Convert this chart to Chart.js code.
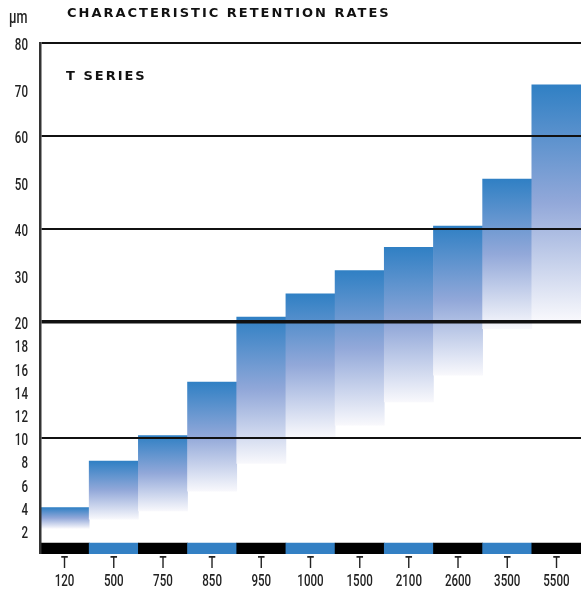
<!DOCTYPE html>
<html>
<head>
<meta charset="utf-8">
<script src="https://cdn.jsdelivr.net/npm/chart.js@4.4.1/dist/chart.umd.min.js"></script>
<style>
  html, body { margin: 0; padding: 0; background: #fff; }
  #wrap { position: relative; width: 581px; height: 592px; }
  #chart { position: absolute; left: 0; top: 0; }
  .caps {
    position: absolute;
    font-family: 'DejaVu Sans', sans-serif;
    font-weight: bold;
    font-size: 13px;
    letter-spacing: 2px;
    color: #111;
    white-space: nowrap;
    line-height: 1;
  }
  #title { left: 67px; top: 6px; }
  #series { left: 66px; top: 69px; }
  #unit {
    position: absolute; left: 9px; top: 8px;
    font-family: Roboto, 'Liberation Sans', sans-serif; font-weight: 500;
    font-size: 18px; color: #222; line-height: 1;
    transform: scaleX(0.7); transform-origin: 0 0;
  }
</style>
</head>
<body>
<div id="wrap">
  <canvas id="chart" width="581" height="592"></canvas>
  <div class="caps" id="title">CHARACTERISTIC RETENTION RATES</div>
  <div class="caps" id="series">T SERIES</div>
  <div id="unit">µm</div>
</div>
<script>
// Filter grades and the retention range (µm) of each one
const seriesPrefix = 'T';
const grades = ['120', '500', '750', '850', '950', '1000', '1500', '2100', '2600', '3500', '5500'];
const lowValues  = [2.2, 3.0, 3.7, 5.4, 7.8, 10.1, 11.1, 13.1, 15.4, 19.4, 20.3];
const highValues = [4.0, 8.0, 10.2, 14.8, 21.0, 26.0, 31.0, 36.0, 40.6, 50.7, 71.0];

// Axis ticks and which of them carry a rule
const yTickValues = [2, 4, 6, 8, 10, 12, 14, 16, 18, 20, 30, 40, 50, 60, 70, 80];
const ruledValues = [10, 40, 60, 80];
const heavyRuleValue = 20;

// Alternating grade band along the foot of the chart
const bandRange = [0, 0.95];
const bandColors = ['#000000', '#3380c4'];

// Vertical axis: 0–20 is stretched 2.5x against 20–80
const SPLIT = 20, STRETCH = 2.5;
const warp = v => v <= SPLIT ? v * STRETCH : SPLIT * STRETCH + (v - SPLIT);
const unwarp = w => w <= SPLIT * STRETCH ? w / STRETCH : SPLIT + (w - SPLIT * STRETCH);

class SplitScale extends Chart.LinearScale {
  static id = 'split';
  static defaults = Chart.LinearScale.defaults;
  getPixelForValue(value) {
    if (value === null || value === undefined || isNaN(value)) return NaN;
    const a = warp(this.min), b = warp(this.max);
    return this.getPixelForDecimal((warp(value) - a) / (b - a));
  }
  getValueForPixel(pixel) {
    const a = warp(this.min), b = warp(this.max);
    return unwarp(a + this.getDecimalForPixel(pixel) * (b - a));
  }
}
Chart.register(SplitScale);

// Each bar fades from blue at its top to near white at its bottom
function barFill(ctx) {
  const chart = ctx.chart;
  const y = chart.scales && chart.scales.y;
  if (!y || ctx.type !== 'data' || !Array.isArray(ctx.raw)) return '#3380c4';
  const top = y.getPixelForValue(ctx.raw[1]);
  const bottom = y.getPixelForValue(ctx.raw[0]);
  if (!isFinite(top) || !isFinite(bottom)) return '#3380c4';
  const g = chart.ctx.createLinearGradient(0, top, 0, bottom);
  g.addColorStop(0, 'rgb(48,128,196)');
  g.addColorStop(0.5, 'rgb(146,168,217)');
  g.addColorStop(1, 'rgb(248,248,252)');
  return g;
}

// Tick labels in a narrow face: horizontally squeezed text at the scales' tick positions
const LABEL_SIZE = 16.5;
const SQUEEZE = 0.7;
const narrowLabels = {
  id: 'narrowLabels',
  afterDraw(chart) {
    const ctx = chart.ctx, xs = chart.scales.x, ys = chart.scales.y;
    const put = (text, x, yMid, align) => {
      ctx.save();
      ctx.translate(x, yMid + 0.355 * LABEL_SIZE);
      ctx.scale(SQUEEZE, 1);
      ctx.textAlign = align;
      ctx.textBaseline = 'alphabetic';
      ctx.fillText(text, 0, 0);
      ctx.restore();
    };
    ctx.save();
    ctx.fillStyle = '#222';
    ctx.font = `500 ${LABEL_SIZE}px Roboto, 'Liberation Sans', sans-serif`;
    ys.ticks.forEach(t => put(String(t.value), ys.right - 12, ys.getPixelForValue(t.value) + 1.5, 'right'));
    grades.forEach((g, i) => {
      const x = xs.getPixelForTick(i);
      put(seriesPrefix, x, xs.top + 8.5, 'center');
      put(g, x, xs.top + 26, 'center');
    });
    ctx.restore();
  }
};

new Chart(document.getElementById('chart'), {
  type: 'bar',
  data: {
    labels: grades.map(g => seriesPrefix + ' ' + g),
    datasets: [
      {
        data: grades.map((_, i) => [lowValues[i], highValues[i]]),
        backgroundColor: barFill,
        borderWidth: 0,
        grouped: false,
        barPercentage: 1,
        categoryPercentage: 1
      },
      {
        data: grades.map(() => bandRange),
        backgroundColor: grades.map((_, i) => bandColors[i % 2]),
        borderWidth: 0,
        grouped: false,
        barPercentage: 1,
        categoryPercentage: 1
      }
    ]
  },
  plugins: [narrowLabels],
  options: {
    responsive: false,
    animation: false,
    layout: { padding: { top: 43, right: 0, left: 0, bottom: 0 } },
    plugins: { legend: { display: false }, tooltip: { enabled: false }, title: { display: false } },
    scales: {
      x: {
        grid: { display: false },
        border: { display: false },
        ticks: { display: false },
        afterFit: s => { s.height = 38; }
      },
      y: {
        type: 'split',
        min: 0,
        max: 80,
        afterBuildTicks: s => { s.ticks = yTickValues.map(v => ({ value: v })); },
        ticks: { display: false },
        grid: {
          z: 1,
          drawTicks: false,
          color: c => (c.tick && (c.tick.value === heavyRuleValue || ruledValues.includes(c.tick.value))) ? '#111' : 'rgba(0,0,0,0)',
          lineWidth: c => !c.tick ? 0 : c.tick.value === heavyRuleValue ? 3.5 : ruledValues.includes(c.tick.value) ? 2 : 0
        },
        border: { display: true, width: 2.5, color: '#333', z: 1 },
        afterFit: s => { s.width = 40; }
      }
    }
  }
});
</script>
</body>
</html>
